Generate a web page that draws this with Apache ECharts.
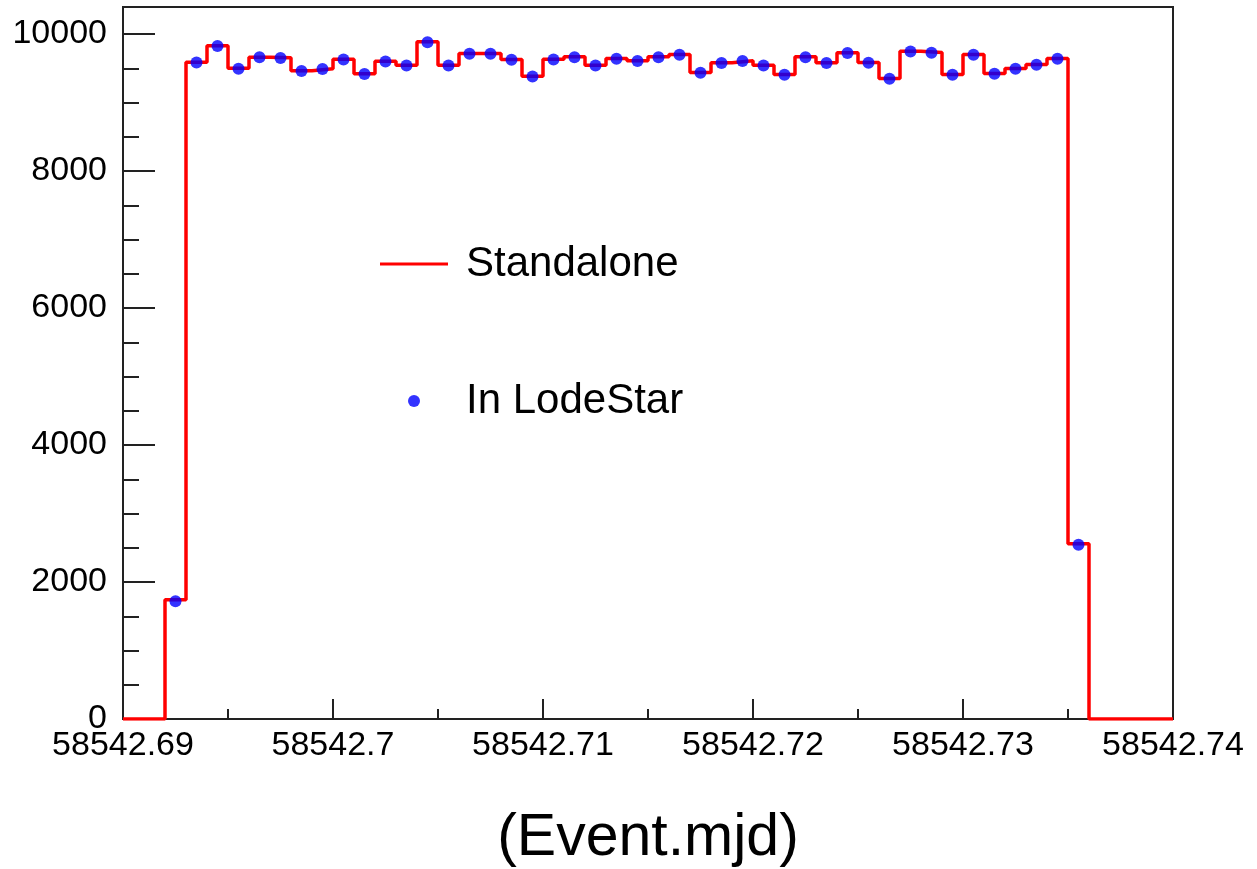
<!DOCTYPE html>
<html>
<head>
<meta charset="utf-8">
<script src="https://cdn.jsdelivr.net/npm/echarts@6/dist/echarts.min.js"></script>
<style>
html,body{margin:0;padding:0;background:#fff;}
#chart{width:1257px;height:869px;}
</style>
</head>
<body>
<div id="chart"></div>
<script>
// Histogram binning
const binStart = 58542.69;
const binWidth = 0.001;
// Counts per bin (50 bins from 58542.69 to 58542.74)
const standalone = [
  0, 0, 1740, 9590, 9830, 9500, 9662, 9655, 9463, 9492,
  9633, 9420, 9604, 9545, 9886, 9545, 9716, 9716, 9628, 9385,
  9633, 9667, 9545, 9643, 9609, 9667, 9701, 9439, 9580, 9609,
  9545, 9409, 9667, 9580, 9726, 9584, 9351, 9750, 9730, 9409,
  9701, 9424, 9497, 9555, 9643, 2560, 0, 0, 0, 0
];
const lodeStar = [
  0, 0, 1720, 9585, 9825, 9495, 9660, 9650, 9460, 9490,
  9630, 9418, 9600, 9540, 9882, 9542, 9712, 9712, 9625, 9382,
  9630, 9663, 9542, 9640, 9605, 9663, 9698, 9435, 9577, 9605,
  9542, 9405, 9663, 9577, 9722, 9580, 9348, 9746, 9727, 9405,
  9697, 9420, 9493, 9552, 9640, 2545, 0, 0, 0, 0
];
const xTicks = [58542.69, 58542.70, 58542.71, 58542.72, 58542.73, 58542.74];
const yTicks = [0, 2000, 4000, 6000, 8000, 10000];
const xTitle = '(Event.mjd)';
const seriesNames = ['Standalone', 'In LodeStar'];

const nBins = standalone.length;
const edge = i => +(binStart + i * binWidth).toFixed(6);
const stepData = standalone.map((v, i) => [edge(i), v]);
stepData.push([edge(nBins), standalone[nBins - 1]]);
const markerData = [];
lodeStar.forEach((v, i) => { if (v > 0) markerData.push([+(binStart + (i + 0.5) * binWidth).toFixed(7), v]); });

const xMin = xTicks[0], xMax = xTicks[xTicks.length - 1];
const yMax = 10395;
const FONT = '"Liberation Sans", Arial, Helvetica, sans-serif';
const axisColor = '#222';
const textColor = '#000';

const chart = echarts.init(document.getElementById('chart'), null, {renderer: 'canvas'});
chart.setOption({
  animation: false,
  backgroundColor: '#fff',
  grid: {left: 123, right: 84, top: 7, bottom: 150, show: true, borderColor: axisColor, borderWidth: 2,
    backgroundColor: 'transparent', containLabel: false, outerBoundsMode: 'none'},
  legend: [
    {
      data: [{name: seriesNames[0], icon: 'rect'}], left: 380, top: 243, orient: 'vertical', padding: 0,
      itemWidth: 68, itemHeight: 3,
      textStyle: {fontFamily: FONT, fontSize: 42, color: textColor, padding: [0, 0, 0, 13], lineHeight: 42}
    },
    {
      data: [{name: seriesNames[1], icon: 'circle'}], left: 408, top: 380, orient: 'vertical', padding: 0,
      itemWidth: 12, itemHeight: 12,
      textStyle: {fontFamily: FONT, fontSize: 42, color: textColor, padding: [0, 0, 0, 41], lineHeight: 42}
    }
  ],
  xAxis: {
    type: 'value', min: xMin, max: xMax, interval: 0.01,
    name: xTitle, nameLocation: 'middle', nameGap: 90,
    nameTextStyle: {fontFamily: FONT, fontSize: 59, color: textColor},
    axisLine: {show: true, onZero: false, lineStyle: {color: axisColor, width: 2}},
    axisTick: {show: true, inside: true, length: 20, lineStyle: {color: axisColor, width: 2}},
    minorTick: {show: true, splitNumber: 2, length: 10, lineStyle: {color: axisColor, width: 2}},
    splitLine: {show: false},
    axisLabel: {fontFamily: FONT, fontSize: 34, color: textColor, margin: 10,
      formatter: v => String(+(+v).toFixed(4)), showMinLabel: true, showMaxLabel: true, hideOverlap: false}
  },
  yAxis: [
    {
      type: 'value', min: 0, max: yMax, interval: 2000,
      axisLine: {show: true, onZero: false, lineStyle: {color: axisColor, width: 2}},
      axisTick: {show: true, inside: true, length: 32, lineStyle: {color: axisColor, width: 2}},
      splitLine: {show: false},
      axisLabel: {fontFamily: FONT, fontSize: 34, color: textColor, margin: 16,
        formatter: v => (yTicks.indexOf(v) >= 0 ? String(v) : ''), showMaxLabel: false}
    },
    {
      type: 'value', min: 0, max: yMax, interval: 500, position: 'left',
      axisLine: {show: false},
      axisTick: {show: true, inside: true, length: 16, lineStyle: {color: axisColor, width: 2}},
      splitLine: {show: false},
      axisLabel: {show: false}
    }
  ],
  series: [
    {
      name: seriesNames[0], type: 'line', step: 'end', data: stepData,
      symbol: 'none', color: '#ff0000',
      lineStyle: {color: '#ff0000', width: 3.5}, z: 3
    },
    {
      name: seriesNames[1], type: 'scatter', data: markerData,
      symbol: 'circle', symbolSize: 12, color: '#0000ff',
      itemStyle: {color: '#0000ff'}, z: 4
    }
  ]
});
</script>
</body>
</html>
